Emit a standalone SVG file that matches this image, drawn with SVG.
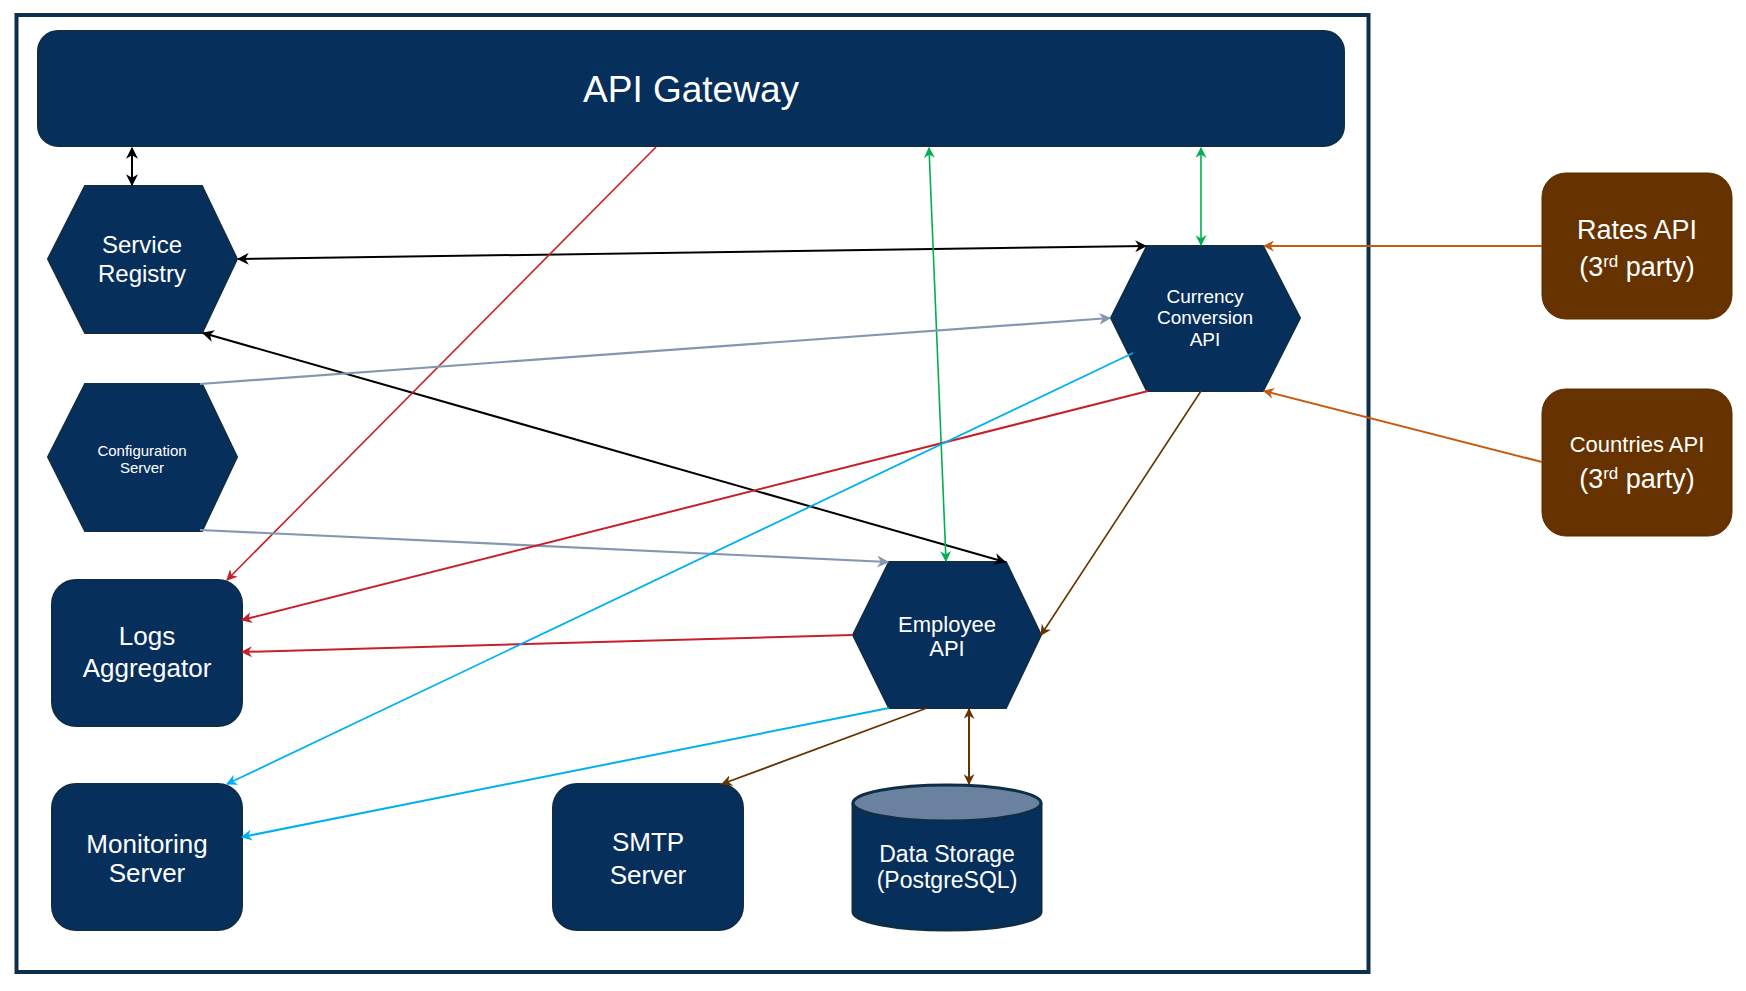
<svg xmlns="http://www.w3.org/2000/svg" width="1746" height="991" viewBox="0 0 1746 991">
<style>
.n{fill:#072F5C;stroke:#0D2E46;stroke-width:2}
.b{fill:#663300;stroke:#5a2d00;stroke-width:1}
.t{font-family:"Liberation Sans",Arial,sans-serif;fill:#ffffff;text-anchor:middle}
.c{fill:none}
</style>
<defs>
<marker id="mk" viewBox="0 0 10 10" refX="9" refY="5" markerWidth="6" markerHeight="6" orient="auto-start-reverse" markerUnits="userSpaceOnUse"><path d="M0,0 L10,5 L0,10 L3,5 z" fill="#000"/></marker>
<marker id="mr" viewBox="0 0 10 10" refX="9" refY="5" markerWidth="11" markerHeight="11" orient="auto-start-reverse" markerUnits="userSpaceOnUse"><path d="M0,0 L10,5 L0,10 L3,5 z" fill="#C8202A"/></marker>
<marker id="mg" viewBox="0 0 10 10" refX="9" refY="5" markerWidth="11" markerHeight="11" orient="auto-start-reverse" markerUnits="userSpaceOnUse"><path d="M0,0 L10,5 L0,10 L3,5 z" fill="#00B050"/></marker>
<marker id="ms" viewBox="0 0 10 10" refX="9" refY="5" markerWidth="12" markerHeight="12" orient="auto-start-reverse" markerUnits="userSpaceOnUse"><path d="M0,0 L10,5 L0,10 L3,5 z" fill="#8497B0"/></marker>
<marker id="mc" viewBox="0 0 10 10" refX="9" refY="5" markerWidth="11" markerHeight="11" orient="auto-start-reverse" markerUnits="userSpaceOnUse"><path d="M0,0 L10,5 L0,10 L3,5 z" fill="#00B0F0"/></marker>
<marker id="mb" viewBox="0 0 10 10" refX="9" refY="5" markerWidth="11" markerHeight="11" orient="auto-start-reverse" markerUnits="userSpaceOnUse"><path d="M0,0 L10,5 L0,10 L3,5 z" fill="#663300"/></marker>
<marker id="mo" viewBox="0 0 10 10" refX="9" refY="5" markerWidth="11" markerHeight="11" orient="auto-start-reverse" markerUnits="userSpaceOnUse"><path d="M0,0 L10,5 L0,10 L3,5 z" fill="#C55A11"/></marker>
<marker id="mk2" viewBox="0 0 10 10" refX="9" refY="5" markerWidth="12" markerHeight="12" orient="auto-start-reverse" markerUnits="userSpaceOnUse"><path d="M0,0 L10,5 L0,10 L3,5 z" fill="#000"/></marker>
</defs>
<rect x="0" y="0" width="1746" height="991" fill="#ffffff"/>
<rect id="frame" x="16.5" y="15" width="1352" height="957" fill="none" stroke="#0E2F4A" stroke-width="4"/>

<g id="api-gateway">
<rect class="n" x="38" y="31" width="1306" height="115" rx="20"/>
<text class="t" x="691" y="102" font-size="37">API Gateway</text>
</g>

<g id="service-registry">
<polygon class="n" points="48,259 85,186 202,186 237,259 202,333 85,333"/>
<text class="t" x="142" y="253" font-size="24">Service</text>
<text class="t" x="142" y="282" font-size="24">Registry</text>
</g>

<g id="configuration-server">
<polygon class="n" points="48,457 85,384 202,384 237,457 202,531 85,531"/>
<text class="t" x="142" y="456" font-size="15">Configuration</text>
<text class="t" x="142" y="473" font-size="15">Server</text>
</g>

<g id="logs-aggregator">
<rect class="n" x="52" y="580" width="190" height="146" rx="24"/>
<text class="t" x="147" y="645" font-size="26">Logs</text>
<text class="t" x="147" y="677" font-size="26">Aggregator</text>
</g>

<g id="monitoring-server">
<rect class="n" x="52" y="784" width="190" height="146" rx="24"/>
<text class="t" x="147" y="853" font-size="26">Monitoring</text>
<text class="t" x="147" y="882" font-size="26">Server</text>
</g>

<g id="smtp-server">
<rect class="n" x="553" y="784" width="190" height="146" rx="24"/>
<text class="t" x="648" y="851" font-size="26">SMTP</text>
<text class="t" x="648" y="884" font-size="26">Server</text>
</g>

<g id="currency-conversion-api">
<polygon class="n" points="1111,318 1147,246 1263,246 1300,318 1263,391 1147,391"/>
<text class="t" x="1205" y="303" font-size="19">Currency</text>
<text class="t" x="1205" y="324" font-size="19">Conversion</text>
<text class="t" x="1205" y="346" font-size="19">API</text>
</g>

<g id="employee-api">
<polygon class="n" points="853,635 889,562 1006,562 1041,635 1006,708 889,708"/>
<text class="t" x="947" y="632" font-size="22">Employee</text>
<text class="t" x="947" y="656" font-size="22">API</text>
</g>

<g id="data-storage">
<path d="M853,803 L853,912 A94,18 0 0 0 1041,912 L1041,803" fill="#072F5C" stroke="#0D2E46" stroke-width="3"/>
<ellipse cx="947" cy="803" rx="94" ry="18" fill="#6A82A0" stroke="#0D2E46" stroke-width="3"/>
<text class="t" x="947" y="862" font-size="23">Data Storage</text>
<text class="t" x="947" y="888" font-size="23">(PostgreSQL)</text>
</g>

<g id="rates-api">
<rect class="b" x="1542" y="173" width="190" height="146" rx="24"/>
<text class="t" x="1637" y="239" font-size="27">Rates API</text>
<text class="t" x="1637" y="276" font-size="27">(3<tspan font-size="17" dy="-9">rd</tspan><tspan dy="9"> party)</tspan></text>
</g>

<g id="countries-api">
<rect class="b" x="1542" y="389" width="190" height="147" rx="24"/>
<text class="t" x="1637" y="452" font-size="22">Countries API</text>
<text class="t" x="1637" y="488" font-size="27">(3<tspan font-size="17" dy="-9">rd</tspan><tspan dy="9"> party)</tspan></text>
</g>

<g id="connectors" class="c">
<line x1="132" y1="148" x2="132" y2="185" stroke="#000" stroke-width="2" marker-start="url(#mk2)" marker-end="url(#mk2)"/>
<line x1="1146" y1="246" x2="238" y2="259" stroke="#000" stroke-width="2" marker-start="url(#mk2)" marker-end="url(#mk2)"/>
<line x1="203" y1="333" x2="1005" y2="562" stroke="#000" stroke-width="2" marker-start="url(#mk2)" marker-end="url(#mk2)"/>
<line x1="656" y1="147" x2="227" y2="580" stroke="#C8202A" stroke-width="1.6" marker-end="url(#mr)"/>
<line x1="929" y1="148" x2="946" y2="561" stroke="#00B050" stroke-width="1.6" marker-start="url(#mg)" marker-end="url(#mg)"/>
<line x1="1201" y1="148" x2="1201" y2="245" stroke="#00B050" stroke-width="1.6" marker-start="url(#mg)" marker-end="url(#mg)"/>
<line x1="200" y1="384" x2="1110" y2="318" stroke="#8497B0" stroke-width="2.2" marker-end="url(#ms)"/>
<line x1="200" y1="530" x2="888" y2="562" stroke="#8497B0" stroke-width="2.2" marker-end="url(#ms)"/>
<line x1="1148" y1="391" x2="242" y2="620" stroke="#C8202A" stroke-width="2" marker-end="url(#mr)"/>
<line x1="853" y1="635" x2="242" y2="652" stroke="#C8202A" stroke-width="2" marker-end="url(#mr)"/>
<line x1="1133" y1="353" x2="227" y2="784" stroke="#00B0F0" stroke-width="1.8" marker-end="url(#mc)"/>
<line x1="889" y1="708" x2="242" y2="837" stroke="#00B0F0" stroke-width="2" marker-end="url(#mc)"/>
<line x1="1201" y1="391" x2="1041" y2="635" stroke="#663300" stroke-width="1.6" marker-end="url(#mb)"/>
<line x1="927" y1="708" x2="722" y2="784" stroke="#663300" stroke-width="1.8" marker-end="url(#mb)"/>
<line x1="969" y1="709" x2="969" y2="784" stroke="#663300" stroke-width="2" marker-start="url(#mb)" marker-end="url(#mb)"/>
<line x1="1542" y1="246" x2="1264" y2="246" stroke="#C55A11" stroke-width="2" marker-end="url(#mo)"/>
<line x1="1542" y1="462" x2="1264" y2="391" stroke="#C55A11" stroke-width="2" marker-end="url(#mo)"/>
</g>
</svg>
